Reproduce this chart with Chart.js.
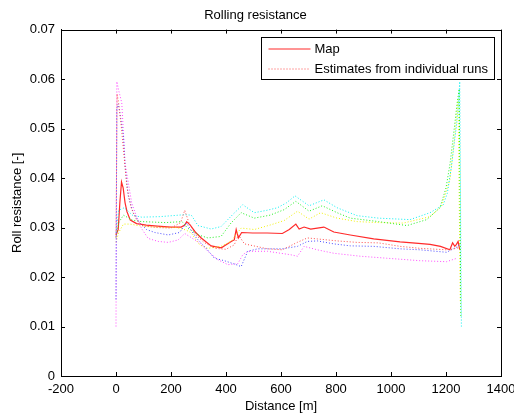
<!DOCTYPE html>
<html>
<head>
<meta charset="utf-8">
<script src="https://cdn.jsdelivr.net/npm/chart.js@4.4.1/dist/chart.umd.min.js"></script>
<style>
  html, body { margin: 0; padding: 0; background: #fff; }
  #wrap { width: 514px; height: 416px; }
</style>
</head>
<body>
<div id="wrap"><canvas id="c" width="514" height="416"></canvas></div>
<script>
// tick labels
const xTicks = [-200, 0, 200, 400, 600, 800, 1000, 1200, 1400];
const yTicks = [0, 0.01, 0.02, 0.03, 0.04, 0.05, 0.06, 0.07];

// Map (red solid)
const mapDist = [0, 8, 14, 20, 26, 33, 40, 52, 75, 110, 150, 200, 237, 250, 257, 270, 290, 310, 346, 383, 419, 430, 437, 445, 457, 497, 550, 605, 630, 654, 666, 684, 708, 756, 792, 852, 937, 1033, 1100, 1142, 1180, 1214, 1224, 1232, 1238, 1244, 1250];
const mapVals = [0.0285, 0.0296, 0.035, 0.0392, 0.038, 0.035, 0.0332, 0.0315, 0.0308, 0.0305, 0.0303, 0.0301, 0.0301, 0.0305, 0.0312, 0.0305, 0.029, 0.0279, 0.0263, 0.0259, 0.0272, 0.0275, 0.0296, 0.0279, 0.029, 0.0289, 0.0289, 0.0288, 0.0296, 0.0307, 0.0297, 0.0301, 0.0297, 0.0301, 0.0291, 0.0285, 0.0277, 0.0271, 0.0268, 0.0266, 0.0262, 0.0255, 0.0269, 0.0262, 0.0266, 0.0272, 0.0255];

// individual runs (dotted)
const redDist = [0, 4, 10, 20, 30, 40, 55, 75, 100, 150, 200, 235, 250, 265, 290, 320, 360, 400, 430, 445, 467, 551, 605, 659, 696, 732, 804, 877, 955, 1033, 1105, 1202, 1240, 1250];
const redVals = [0.028, 0.057, 0.055, 0.05, 0.044, 0.038, 0.034, 0.0315, 0.0303, 0.030, 0.0299, 0.031, 0.0335, 0.031, 0.0285, 0.027, 0.0258, 0.0256, 0.0265, 0.0285, 0.0267, 0.0257, 0.0255, 0.027, 0.0279, 0.0277, 0.0273, 0.027, 0.0269, 0.0262, 0.0258, 0.0255, 0.0258, 0.0262];

const blueDist = [0, 3, 8, 14, 27, 33, 45, 63, 87, 111, 141, 190, 231, 256, 292, 328, 358, 394, 437, 455, 479, 515, 605, 660, 696, 732, 792, 852, 937, 1033, 1105, 1202, 1244, 1252];
const blueVals = [0.0155, 0.054, 0.055, 0.0532, 0.0485, 0.0424, 0.0363, 0.0329, 0.0309, 0.0296, 0.029, 0.0285, 0.029, 0.0309, 0.0279, 0.0258, 0.0238, 0.0233, 0.0225, 0.0221, 0.0252, 0.0257, 0.0257, 0.0262, 0.0272, 0.0273, 0.0267, 0.0263, 0.0262, 0.0257, 0.0255, 0.025, 0.0262, 0.0268];

const magDist = [0, 3, 9, 21, 33, 45, 57, 75, 93, 117, 153, 190, 226, 250, 304, 334, 370, 407, 443, 461, 479, 551, 599, 635, 660, 684, 732, 792, 889, 985, 1105, 1202, 1240];
const magVals = [0.010, 0.0595, 0.0579, 0.0552, 0.043, 0.039, 0.035, 0.0322, 0.0298, 0.0278, 0.0272, 0.027, 0.0275, 0.0288, 0.0269, 0.0252, 0.0235, 0.0225, 0.0227, 0.0245, 0.0252, 0.0252, 0.0248, 0.0245, 0.0242, 0.0262, 0.0255, 0.0248, 0.0242, 0.0238, 0.0233, 0.0231, 0.0238];

const cyanDist = [0, 10, 30, 60, 93, 160, 249, 274, 298, 346, 382, 424, 461, 503, 550, 587, 620, 651, 702, 756, 804, 877, 955, 1069, 1142, 1190, 1205, 1220, 1232, 1238, 1244, 1250, 1256];
const cyanVals = [0.029, 0.0335, 0.034, 0.0325, 0.0321, 0.0322, 0.0326, 0.0325, 0.0304, 0.0297, 0.0302, 0.0326, 0.0346, 0.033, 0.0335, 0.034, 0.035, 0.0364, 0.0344, 0.0356, 0.034, 0.0324, 0.0319, 0.0316, 0.033, 0.0346, 0.037, 0.0424, 0.048, 0.0505, 0.054, 0.0595, 0.010];

const greenDist = [0, 10, 27, 60, 93, 180, 240, 260, 300, 334, 382, 418, 455, 503, 560, 611, 654, 702, 750, 804, 852, 955, 1058, 1130, 1178, 1200, 1215, 1230, 1240, 1248, 1254];
const greenVals = [0.028, 0.031, 0.0325, 0.0315, 0.0312, 0.031, 0.0312, 0.0299, 0.0285, 0.0279, 0.0282, 0.0309, 0.033, 0.0319, 0.0325, 0.0336, 0.0353, 0.0333, 0.0344, 0.033, 0.0319, 0.0312, 0.0304, 0.0316, 0.034, 0.038, 0.043, 0.05, 0.055, 0.058, 0.012];

const yellowDist = [0, 10, 27, 51, 81, 140, 220, 255, 274, 286, 304, 334, 382, 418, 455, 503, 560, 611, 660, 702, 744, 804, 877, 955, 1045, 1142, 1184, 1214, 1232, 1244, 1252];
const yellowVals = [0.027, 0.029, 0.0307, 0.0307, 0.0304, 0.0301, 0.030, 0.0295, 0.0289, 0.0279, 0.0265, 0.0258, 0.0262, 0.0272, 0.0299, 0.0296, 0.0305, 0.0314, 0.0333, 0.0317, 0.033, 0.0319, 0.0312, 0.031, 0.0309, 0.0322, 0.0343, 0.0397, 0.0484, 0.0559, 0.015];

const FONT = "'Liberation Sans', Arial, sans-serif";

function pts(xs, ys) {
    return xs.map((x, i) => ({ x: x, y: ys[i] }));
}

function run(label, xs, ys, color) {
    return {
        label: label,
        data: pts(xs, ys),
        borderColor: color,
        borderWidth: 1,
        borderDash: [1, 2],
        pointRadius: 0,
        tension: 0,
        order: 0
    };
}

const datasets = [
    {
        label: 'Map',
        data: pts(mapDist, mapVals),
        borderColor: '#ff2a2a',
        borderWidth: 1.2,
        pointRadius: 0,
        tension: 0,
        order: 1
    },
    run('Estimates from individual runs', redDist, redVals, '#ff4a4a'),
    run('run b', blueDist, blueVals, '#4a4aff'),
    run('run m', magDist, magVals, '#ff4aff'),
    run('run c', cyanDist, cyanVals, '#00f0f0'),
    run('run g', greenDist, greenVals, '#20f020'),
    run('run y', yellowDist, yellowVals, '#f0f000')
];

// box round the axes, inward ticks on all four sides, legend inside
const matlabAxes = {
    id: 'matlabAxes',
    afterDatasetsDraw(chart) {
        const { ctx, chartArea: a, scales } = chart;
        const tl = 4;
        ctx.save();
        ctx.strokeStyle = '#000';
        ctx.lineWidth = 1;
        ctx.beginPath();
        ctx.rect(Math.round(a.left) + 0.5, Math.round(a.top) + 0.5, Math.round(a.right - a.left), Math.round(a.bottom - a.top));
        xTicks.forEach(v => {
            const x = Math.round(scales.x.getPixelForValue(v)) + 0.5;
            ctx.moveTo(x, a.bottom); ctx.lineTo(x, a.bottom - tl);
            ctx.moveTo(x, a.top); ctx.lineTo(x, a.top + tl);
        });
        yTicks.forEach(v => {
            const y = Math.round(scales.y.getPixelForValue(v)) + 0.5;
            ctx.moveTo(a.left, y); ctx.lineTo(a.left + tl, y);
            ctx.moveTo(a.right, y); ctx.lineTo(a.right - tl, y);
        });
        ctx.stroke();

        // legend
        const m = datasets[0], e = datasets[1];
        ctx.font = '13px ' + FONT;
        const tw = Math.max(ctx.measureText(m.label).width, ctx.measureText(e.label).width);
        const w = Math.round(8 + 42 + 3 + tw + 7);
        const h = 42;
        const bx = Math.round(a.right) - 7 - w + 0.5;
        const by = Math.round(a.top) + 7 + 0.5;
        ctx.fillStyle = '#fff';
        ctx.fillRect(bx, by, w, h);
        ctx.strokeStyle = '#000';
        ctx.strokeRect(bx, by, w, h);
        const rows = [m, e];
        rows.forEach((d, i) => {
            const yy = by + 11.5 + i * 20;
            ctx.beginPath();
            ctx.strokeStyle = d.borderColor;
            ctx.lineWidth = d.borderWidth;
            ctx.setLineDash(d.borderDash || []);
            ctx.moveTo(bx + 7, yy);
            ctx.lineTo(bx + 49, yy);
            ctx.stroke();
            ctx.setLineDash([]);
            ctx.fillStyle = '#000';
            ctx.textBaseline = 'middle';
            ctx.textAlign = 'left';
            ctx.fillText(d.label, bx + 53, yy + 0.5);
        });
        ctx.restore();
    }
};

new Chart(document.getElementById('c').getContext('2d'), {
    type: 'line',
    data: { datasets: datasets },
    options: {
        responsive: false,
        animation: false,
        layout: { padding: { left: 10, right: 13, top: 0, bottom: 0 } },
        plugins: {
            legend: { display: false },
            tooltip: { enabled: false },
            title: {
                display: true,
                text: 'Rolling resistance',
                color: '#000',
                font: { family: FONT, size: 13, weight: 'normal' },
                padding: { top: 8, bottom: 6 }
            }
        },
        scales: {
            x: {
                type: 'linear',
                min: -200,
                max: 1400,
                afterBuildTicks: s => { s.ticks = xTicks.map(v => ({ value: v })); },
                afterFit: s => { s.height = 40; s.paddingLeft = 0; s.paddingRight = 0; },
                grid: { display: false, drawTicks: false },
                border: { display: true, color: '#000' },
                ticks: {
                    color: '#000',
                    padding: 6,
                    maxRotation: 0,
                    font: { family: FONT, size: 13 },
                    callback: v => String(v)
                },
                title: {
                    display: true,
                    text: 'Distance [m]',
                    color: '#000',
                    font: { family: FONT, size: 13 },
                    padding: { top: 0, bottom: 2 }
                }
            },
            y: {
                type: 'linear',
                min: 0,
                max: 0.07,
                afterBuildTicks: s => { s.ticks = yTicks.map(v => ({ value: v })); },
                afterFit: s => { s.width = 51; s.paddingTop = 0; s.paddingBottom = 0; },
                grid: { display: false, drawTicks: false },
                border: { display: true, color: '#000' },
                ticks: {
                    color: '#000',
                    padding: 6,
                    font: { family: FONT, size: 13 },
                    callback: v => String(+v.toFixed(2))
                },
                title: {
                    display: true,
                    text: 'Roll resistance [-]',
                    color: '#000',
                    font: { family: FONT, size: 13 },
                    padding: { top: 0, bottom: 4 }
                }
            }
        }
    },
    plugins: [matlabAxes]
});
</script>
</body>
</html>
